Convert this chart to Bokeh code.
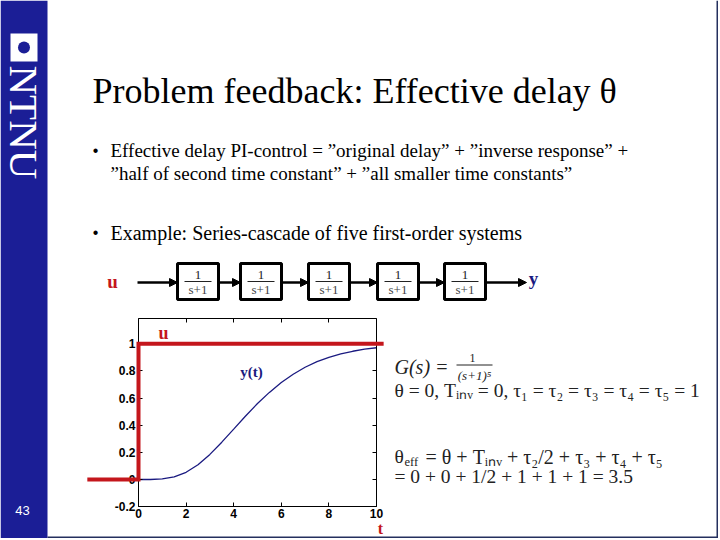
import math
from bokeh.plotting import figure
from bokeh.models import Arrow, NormalHead, LinearAxis, FixedTicker, Range1d
from bokeh.core.properties import value
from bokeh.embed import file_html
from bokeh.resources import INLINE

# ---- data ----
t = [0, 0.5, 1, 1.5, 2, 2.5, 3, 3.5, 4, 4.5, 5, 5.5, 6, 6.5, 7, 7.5, 8, 8.5, 9, 9.5, 10]
y = [0.0, 0.000, 0.004, 0.019, 0.053, 0.109, 0.185, 0.275, 0.371, 0.468, 0.560,
     0.642, 0.715, 0.776, 0.827, 0.868, 0.900, 0.926, 0.945, 0.960, 0.971]
u_t = [-2.15, 0, 0, 10.3]
u_v = [0, 0, 1, 1]
x_ticks = [0, 2, 4, 6, 8, 10]
x_tick_labels = ["0", "2", "4", "6", "8", "10"]
y_ticks = [-0.2, 0, 0.2, 0.4, 0.6, 0.8, 1]
y_tick_labels = ["-0.2", "0", "0.2", "0.4", "0.6", "0.8", "1"]

title_text = "Problem feedback: Effective delay \u03b8"
bullet1 = ["Effective delay PI-control = \u201doriginal delay\u201d + \u201dinverse response\u201d +",
           "\u201dhalf of second time constant\u201d + \u201dall smaller time constants\u201d"]
bullet2 = "Example: Series-cascade of five first-order systems"
n_blocks = 5
block_num = "1"
block_den = "s+1"
slide_no = "43"

RED = "#c4161c"
NAVY = "#1a1a80"
SIDE = "#1b1e96"
EQ = "#222222"
EQF = "Liberation Serif"

W, H = 718, 538
# page positions of the plot box (layout)
X0, X10 = 138.0, 376.0      # t = 0 and t = 10
Y0, Y1 = 479.0, 343.3       # value 0 and value 1
BOX_TOP = 318.0
kx = (X10 - X0) / 10.0
ky = Y0 - Y1
y_top = (Y0 - BOX_TOP) / ky
y_bot = y_ticks[0]

p = figure(width=W, height=H, output_backend="svg", toolbar_location=None,
           x_range=Range1d(-X0 / kx, (W - X0) / kx),
           y_range=Range1d(-(H - Y0) / ky, Y0 / ky),
           x_axis_location=None, y_axis_location=None, min_border=0)
p.extra_x_ranges = {"px": Range1d(0, W)}
p.extra_y_ranges = {"px": Range1d(H, 0)}
p.grid.visible = False
p.outline_line_color = None
p.background_fill_color = "white"
p.border_fill_color = "white"


def Q(l, r, tp, b, color, line=None, lw=0):
    p.quad(left=[l], right=[r], top=[tp], bottom=[b], fill_color=color, line_color=line,
           line_width=lw, x_range_name="px", y_range_name="px")


def T(texts, xs, ys, size, color="black", font="Liberation Serif", style="normal",
      align="left", baseline="middle", angle=0.0):
    p.text(x=xs, y=ys, text=texts, x_range_name="px", y_range_name="px",
           text_font=value(font), text_font_size=f"{size}px", text_color=color,
           text_font_style=style, text_align=align, text_baseline=baseline, angle=angle)


def S(x0, y0, x1, y1, color="black", lw=1.0):
    p.segment(x0=[x0], y0=[y0], x1=[x1], y1=[y1], line_color=color, line_width=lw,
              x_range_name="px", y_range_name="px")


def A(x0, y0, x1, y1, color="black", lw=2.5):
    p.add_layout(Arrow(x_start=x0, y_start=y0, x_end=x1, y_end=y1,
                       x_range_name="px", y_range_name="px", line_color=color, line_width=lw,
                       end=NormalHead(size=8, fill_color=color, line_color=color)))


# ---- slide decoration ----
Q(0, 47, 0, H, SIDE)
Q(W - 2, W, 0, H, "#24305e")
Q(47, W, H - 2, H, "#24305e")
# logo
Q(10, 37, 33, 61, "white")
p.circle(x=[23.5], y=[47], radius=6, fill_color=SIDE, line_color=None,
         x_range_name="px", y_range_name="px")
T(["NTNU"], [23.5], [65], 41, color="white", angle=-math.pi / 2)
T([slide_no], [22], [510], 13, color="white", font="Liberation Sans", align="center")

# title & bullets
T([title_text], [92], [90], 36)
T(["\u2022", "\u2022"], [95, 95], [150, 232], 16, font="Liberation Sans", align="center")
T([bullet1[0], bullet1[1]], [110, 110], [150, 173], 19)
T([bullet2], [110], [232], 20)

# block diagram
lefts = [177, 240, 308, 377, 444]
bw = 41
T(["u"], [112], [281], 19, color=RED, style="bold", align="center")
A(137, 282, lefts[0], 282)
for i in range(n_blocks):
    L0 = lefts[i]
    Q(L0, L0 + bw, 263, 299, "white", line="black", lw=3)
    T([block_num], [L0 + bw / 2], [274], 13, color=EQ, align="center")
    S(L0 + 7, 281, L0 + bw - 7, 281, color=EQ, lw=1)
    T([block_den], [L0 + bw / 2], [289], 13, color="#444444", align="center")
    nxt = lefts[i + 1] if i + 1 < n_blocks else 526
    A(L0 + bw, 282, nxt, 282)
T(["y"], [533], [278], 19, color=NAVY, style="bold", align="center")

# ---- step-response plot ----
for loc, side, rng, bounds, ticks, labels in [
        (y_bot, "below", "x", (0, 10), x_ticks, x_tick_labels),
        (y_top, "above", "x", (0, 10), x_ticks, None),
        (0, "left", "y", (y_bot, y_top), y_ticks, y_tick_labels),
        (10, "right", "y", (y_bot, y_top), y_ticks, None)]:
    ax = LinearAxis(fixed_location=loc, bounds=bounds, ticker=FixedTicker(ticks=ticks))
    ax.major_tick_in = 4
    ax.major_tick_out = 0
    ax.minor_tick_in = 0
    ax.minor_tick_out = 0
    ax.axis_line_color = "black"
    ax.major_tick_line_color = "black"
    if labels is None:
        ax.major_label_text_color = None
    else:
        ax.major_label_overrides = {v: s for v, s in zip(ticks, labels)}
        ax.major_label_text_font = "Liberation Sans"
        ax.major_label_text_font_style = "bold"
        ax.major_label_text_font_size = "12px"
        ax.major_label_text_color = "black"
        ax.major_label_standoff = 3 if rng == "y" else 2
    p.add_layout(ax, side)

p.line(t, y, line_color=NAVY, line_width=1.3)
p.line(u_t, u_v, line_color=RED, line_width=4, line_join="miter", level="overlay")

T(["u"], [163], [332], 18, color=RED, style="bold", align="center")
T(["y(t)"], [251], [371], 15, color=NAVY, style="bold", align="center")
T(["t"], [380], [528], 16, color=RED, style="bold", align="center")

# ---- equations ----
T(["G(s) ="], [394], [366], 20, color=EQ, font=EQF, style="italic")
T(["1"], [472], [357], 12, color=EQ, font=EQF, align="center")
S(456, 364.5, 492, 364.5, color=EQ, lw=1)
T(["(s+1)\u2075"], [474], [375], 13, color=EQ, font=EQF, style="italic", align="center")
T(["\u03b8 = 0, T\u1d62\u2099\u1d65 = 0, \u03c4\u2081 = \u03c4\u2082 = \u03c4\u2083 = \u03c4\u2084 = \u03c4\u2085 = 1"],
  [394], [390], 19.5, color=EQ, font=EQF)
T(["\u03b8"], [394], [456], 19.5, color=EQ, font=EQF)
T(["eff"], [404], [461], 12.5, color=EQ, font=EQF)
T(["= \u03b8 + T\u1d62\u2099\u1d65 + \u03c4\u2082/2 + \u03c4\u2083 + \u03c4\u2084 + \u03c4\u2085"], [425], [456], 20,
  color=EQ, font=EQF)
T(["= 0 + 0 + 1/2 + 1 + 1 + 1 = 3.5"], [394], [476], 19.5, color=EQ, font=EQF)

open("out.html", "w").write(file_html(p, INLINE))
